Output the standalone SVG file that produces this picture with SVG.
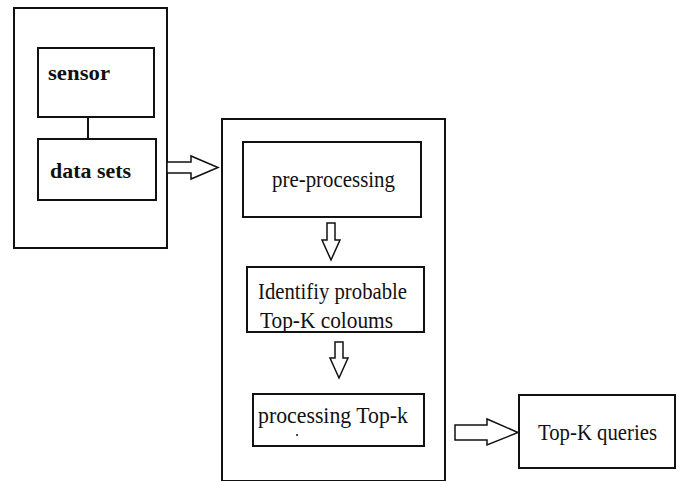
<svg xmlns="http://www.w3.org/2000/svg" width="681" height="481" viewBox="0 0 681 481">
  <style>
    .box { fill: #fff; stroke: #111; stroke-width: 2; }
    .arrow { fill: #fff; stroke: #111; stroke-width: 1.5; stroke-linejoin: miter; }
    .line { stroke: #111; stroke-width: 2; }
    .lbl { font-family: "Liberation Serif", "Times New Roman", serif; font-size: 23px; fill: #111; }
    .bold { font-weight: bold; font-size: 22px; }
  </style>
  <rect width="681" height="481" fill="#fff"/>

  <!-- source side -->
  <g id="source-group">
    <rect class="box" x="14" y="8" width="153" height="240"/>
  </g>
  <g id="sensor">
    <rect class="box" x="38" y="48" width="116" height="69"/>
    <text class="lbl bold" x="48" y="80" textLength="62" lengthAdjust="spacingAndGlyphs">sensor</text>
  </g>
  <g id="data-sets">
    <rect class="box" x="38" y="139" width="118" height="61"/>
    <text class="lbl bold" x="50" y="178" textLength="81" lengthAdjust="spacingAndGlyphs">data sets</text>
  </g>

  <!-- processing side -->
  <g id="processing-group">
    <rect class="box" x="222" y="119" width="223" height="362"/>
  </g>
  <g id="pre-processing">
    <rect class="box" x="243" y="142" width="178" height="75"/>
    <text class="lbl" x="272" y="187" textLength="123" lengthAdjust="spacingAndGlyphs">pre-processing</text>
  </g>
  <g id="identify">
    <rect class="box" x="247" y="267" width="177" height="65"/>
    <text class="lbl" x="258" y="299" textLength="149" lengthAdjust="spacingAndGlyphs">Identifiy probable</text>
    <text class="lbl" x="260" y="328" textLength="133" lengthAdjust="spacingAndGlyphs">Top-K coloums</text>
  </g>
  <g id="processing-topk">
    <rect class="box" x="253" y="394" width="171" height="52"/>
    <text class="lbl" x="258" y="423" textLength="150" lengthAdjust="spacingAndGlyphs">processing Top-k</text>
    <circle cx="297" cy="435" r="1" fill="#111"/>
  </g>
  <g id="topk-queries">
    <rect class="box" x="519" y="395" width="156" height="73"/>
    <text class="lbl" x="538" y="440" textLength="119" lengthAdjust="spacingAndGlyphs">Top-K queries</text>
  </g>

  <!-- connectors -->
  <g id="connectors">
    <line class="line" x1="88" y1="117" x2="88" y2="139"/>
    <!-- data sets -> processing -->
    <polygon class="arrow" points="167,162 191,162 191,156 218,167.5 191,179 191,173 167,173"/>
    <!-- pre-processing -> identify -->
    <polygon class="arrow" points="327,223 335,223 335,240 340,240 331,260 322,240 327,240"/>
    <!-- identify -> processing Top-k -->
    <polygon class="arrow" points="335,342 343,342 343,358 348,358 339,378 330,358 335,358"/>
    <!-- processing -> queries -->
    <polygon class="arrow" points="455,425 487,425 487,419 518,432.5 487,445 487,440 455,440"/>
  </g>
</svg>
